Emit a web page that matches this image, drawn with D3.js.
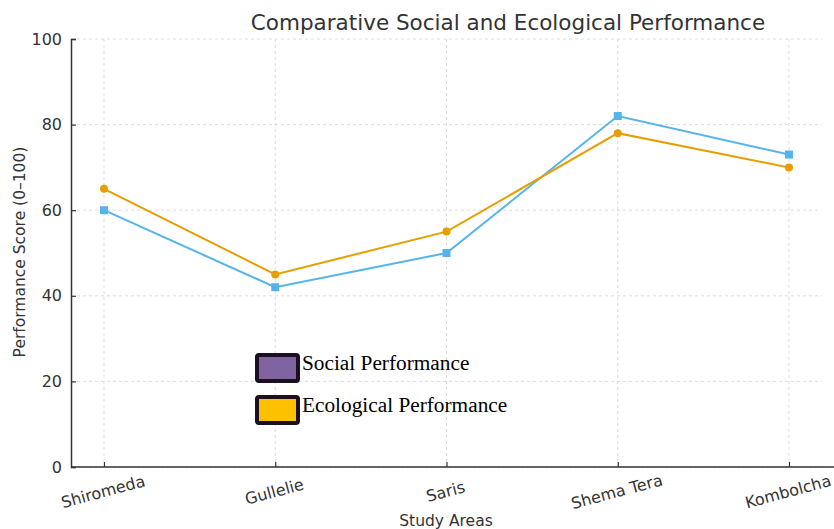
<!DOCTYPE html>
<html>
<head>
<meta charset="utf-8">
<script src="https://cdn.jsdelivr.net/npm/d3@7"></script>
<style>
  body { margin: 0; background: #fff; }
  svg { display: block; }
</style>
</head>
<body>
<div id="chart"></div>
<script>
var areas = ["Shiromeda", "Gullelie", "Saris", "Shema Tera", "Kombolcha"];
var socialScores = [60, 42, 50, 82, 73];
var ecologicalScores = [65, 45, 55, 78, 70];
var yTicks = [0, 20, 40, 60, 80, 100];
var legendItems = [
  {label: "Social Performance", color: "#8064A2"},
  {label: "Ecological Performance", color: "#FFC000"}
];

var width = 834, height = 529;
var plotLeft = 71, plotRight = 834, plotTop = 39, plotBottom = 467;

var svg = d3.select("#chart").append("svg")
    .attr("width", width)
    .attr("height", height);

var x = d3.scalePoint()
    .domain(areas)
    .range([104, 789]);

var y = d3.scaleLinear()
    .domain([0, 100])
    .range([plotBottom, plotTop]);

// grid
svg.append("g")
    .selectAll("line")
    .data(yTicks)
    .enter().append("line")
    .attr("x1", plotLeft).attr("x2", 822)
    .attr("y1", d => y(d)).attr("y2", d => y(d))
    .attr("stroke", "#d4d4d4")
    .attr("stroke-width", 0.8)
    .attr("stroke-dasharray", "3,3");

svg.append("g")
    .selectAll("line")
    .data(areas)
    .enter().append("line")
    .attr("x1", d => x(d)).attr("x2", d => x(d))
    .attr("y1", plotTop).attr("y2", plotBottom)
    .attr("stroke", "#d4d4d4")
    .attr("stroke-width", 0.8)
    .attr("stroke-dasharray", "3,3");

// axes
var yAxis = svg.append("g")
    .attr("transform", "translate(" + plotLeft + ",0)")
    .call(d3.axisLeft(y).tickValues(yTicks).tickSize(-5).tickPadding(9));

var xAxis = svg.append("g")
    .attr("transform", "translate(0," + plotBottom + ")")
    .call(d3.axisBottom(x).tickSize(-5).tickSizeOuter(0));

xAxis.select(".domain").attr("d", "M" + plotLeft + ",0H" + plotRight);

[yAxis, xAxis].forEach(function(a) {
  a.select(".domain").attr("stroke", "#333").attr("stroke-width", 1.5);
  a.selectAll(".tick line").attr("stroke", "#333").attr("stroke-width", 1.2);
  a.selectAll("text")
    .attr("fill", "#333")
    .style("font-family", "DejaVu Sans, sans-serif")
    .style("font-size", "16px");
});

xAxis.selectAll(".tick text")
    .attr("y", 0).attr("dy", 0)
    .attr("text-anchor", "middle")
    .attr("transform", "translate(0,30) rotate(-15)");

// lines
var line = d3.line()
    .x((d, i) => x(areas[i]))
    .y(d => y(d));

svg.append("path")
    .datum(socialScores)
    .attr("fill", "none")
    .attr("stroke", "#56B4E9")
    .attr("stroke-width", 2)
    .attr("d", line);

svg.append("path")
    .datum(ecologicalScores)
    .attr("fill", "none")
    .attr("stroke", "#E69F00")
    .attr("stroke-width", 2)
    .attr("d", line);

svg.append("g")
    .selectAll("rect")
    .data(socialScores)
    .enter().append("rect")
    .attr("x", (d, i) => x(areas[i]) - 4)
    .attr("y", d => y(d) - 4)
    .attr("width", 8).attr("height", 8)
    .attr("fill", "#56B4E9");

svg.append("g")
    .selectAll("circle")
    .data(ecologicalScores)
    .enter().append("circle")
    .attr("cx", (d, i) => x(areas[i]))
    .attr("cy", d => y(d))
    .attr("r", 4)
    .attr("fill", "#E69F00");

// titles
svg.append("text")
    .attr("x", 508).attr("y", 30)
    .attr("text-anchor", "middle")
    .attr("fill", "#333")
    .style("font-family", "DejaVu Sans, sans-serif")
    .style("font-size", "21.5px")
    .text("Comparative Social and Ecological Performance");

svg.append("text")
    .attr("x", 446).attr("y", 526)
    .attr("text-anchor", "middle")
    .attr("fill", "#333")
    .style("font-family", "DejaVu Sans, sans-serif")
    .style("font-size", "15.5px")
    .text("Study Areas");

svg.append("text")
    .attr("transform", "translate(25,252) rotate(-90)")
    .attr("text-anchor", "middle")
    .attr("fill", "#333")
    .style("font-family", "DejaVu Sans, sans-serif")
    .style("font-size", "15.5px")
    .text("Performance Score (0\u2013100)");

// legend
var legend = svg.append("g")
    .selectAll("g")
    .data(legendItems)
    .enter().append("g")
    .attr("transform", (d, i) => "translate(257," + (355 + i * 42) + ")");

legend.append("rect")
    .attr("width", 41).attr("height", 26)
    .attr("rx", 2)
    .attr("fill", d => d.color)
    .attr("stroke", "#1a1020")
    .attr("stroke-width", 4);

legend.append("text")
    .attr("x", 45).attr("y", 15)
    .attr("fill", "#000")
    .style("font-family", "Liberation Serif, Times New Roman, serif")
    .style("font-size", "21.3px")
    .text(d => d.label);
</script>
</body>
</html>
